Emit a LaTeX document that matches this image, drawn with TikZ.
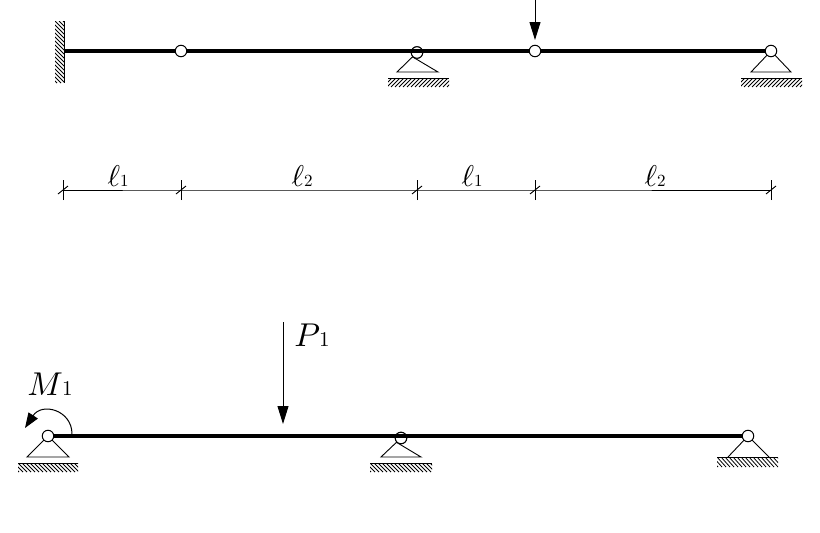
\documentclass[tikz,border=0pt]{standalone}
\usepackage{amsmath}
\usetikzlibrary{arrows.meta}
\newcommand{\biglabel}[2]{\scalebox{3.3}{$#1$}\hspace{-1pt}\scalebox{2.1}{#2}}
\newcommand{\spanlabel}[1]{\scalebox{3}{$\ell$}\scalebox{1.7}{#1}}
% hatched block: corners, then the slant of the strokes
\newcommand{\hatchblock}[5]{
  \begin{scope}
    \clip (#1,#2) rectangle (#3,#4);
    \foreach \hx in {-80,-76,...,120}
      \draw[hatching] (#1+\hx,#2) -- (#1+\hx+#5,#4);
  \end{scope}
}
\begin{document}
\begin{tikzpicture}[x=1pt,y=-1pt]
  \tikzstyle{beam}=[line width=4.8pt]
  \tikzstyle{thinline}=[line width=0.9pt]
  \tikzstyle{hatching}=[line width=0.8pt]
  \tikzstyle{hinge}=[circle,draw,fill=white,line width=1pt,minimum size=11.5pt,inner sep=0pt]
  \tikzstyle{force}=[line width=1pt,-{Triangle[length=18pt,width=11pt]}]
  \tikzstyle{moment}=[line width=1pt,-{Triangle[length=15pt,width=11pt]}]
  \useasboundingbox (0,0) rectangle (820,533);

  % upper beam
  \coordinate (wall) at (64,51);
  \coordinate (wall_t) at (64,21);
  \coordinate (wall_b) at (64,83);
  \coordinate (load_t) at (535,0);
  \coordinate (load_e) at (535,40);
  \draw[thinline] (wall_t) -- (wall_b);
  \hatchblock{55}{21}{64}{83}{62}

  \node[hinge] (H_2) at (417,52.5) {};
  \coordinate (T2_a) at (397,72);
  \coordinate (T2_b) at (438,72);
  \draw[thinline] (H_2) -- (T2_a) -- (T2_b) -- cycle;
  \node[hinge] at (H_2) {};
  \coordinate (G2_a) at (388,78);
  \coordinate (G2_b) at (449,78);
  \draw[thinline] (G2_a) -- (G2_b);
  \hatchblock{388}{78}{449}{87}{-9}

  \coordinate (T4_a) at (751,72);
  \coordinate (T4_b) at (791,72);
  \coordinate (H_4c) at (771,51);
  \draw[thinline] (H_4c) -- (T4_a) -- (T4_b) -- cycle;
  \coordinate (G4_a) at (741,78);
  \coordinate (G4_b) at (802,78);
  \draw[thinline] (G4_a) -- (G4_b);
  \hatchblock{741}{78}{802}{87}{-9}

  \draw[beam] (wall) -- (H_4c);
  \node[hinge] (H_1) at (181,51) {};
  \node[hinge] (H_3) at (535,51) {};
  \node[hinge] (H_4) at (H_4c) {};
  \draw[force] (load_t) -- (load_e);

  % spans
  \coordinate (D_0) at (63,190);
  \coordinate (D_1) at (181,190);
  \coordinate (D_2) at (417,190);
  \coordinate (D_3) at (535,190);
  \coordinate (D_4) at (771,190);
  \draw[thinline] (D_0) -- (D_1) -- (D_2) -- (D_3) -- (D_4);
  \foreach \d in {D_0,D_1,D_2,D_3,D_4} {
    \draw[thinline] ([yshift=-10pt]\d) -- ([yshift=10pt]\d);
    \draw[thinline] ([shift={(-5pt,-4pt)}]\d) -- ([shift={(5pt,4pt)}]\d);
  }
  \node[inner sep=0pt] (L_1) at (118,176) {\spanlabel{1}};
  \node[inner sep=0pt] (L_2) at (302,176) {\spanlabel{2}};
  \node[inner sep=0pt] (L_3) at (472,176) {\spanlabel{1}};
  \node[inner sep=0pt] (L_4) at (655,176) {\spanlabel{2}};

  % lower beam
  \coordinate (S_1c) at (48,436);
  \coordinate (S_3c) at (748,436);
  \coordinate (T5_a) at (27,457);
  \coordinate (T5_b) at (69,457);
  \draw[thinline] (S_1c) -- (T5_a) -- (T5_b) -- cycle;
  \coordinate (G5_a) at (18,463);
  \coordinate (G5_b) at (78,463);
  \draw[thinline] (G5_a) -- (G5_b);
  \hatchblock{18}{463}{78}{472}{9}

  \node[hinge] (S_2) at (401,438) {};
  \coordinate (T6_a) at (381,457);
  \coordinate (T6_b) at (421,457);
  \draw[thinline] (S_2) -- (T6_a) -- (T6_b) -- cycle;
  \node[hinge] at (S_2) {};
  \coordinate (G6_a) at (370,463);
  \coordinate (G6_b) at (432,463);
  \draw[thinline] (G6_a) -- (G6_b);
  \hatchblock{370}{463}{432}{472}{9}

  \coordinate (T7_a) at (728,457);
  \coordinate (T7_b) at (769,457);
  \draw[thinline] (T7_a) -- (S_3c) -- (T7_b);
  \coordinate (G7_a) at (717,457);
  \coordinate (G7_b) at (778,457);
  \draw[thinline] (G7_a) -- (G7_b);
  \hatchblock{717}{457}{778}{467}{9}

  \draw[beam] (S_1c) -- (S_3c);
  \node[hinge] (S_1) at (S_1c) {};
  \node[hinge] (S_3) at (S_3c) {};

  % loads
  \coordinate (P_t) at (283,322);
  \coordinate (P_e) at (283,424);
  \draw[force] (P_t) -- (P_e);
  \node[inner sep=0pt] (P_1) at (312,335) {\biglabel{P}{1}};
  \node[inner sep=0pt] (M_1) at (50,384) {\biglabel{M}{1}};
  \coordinate (M_s) at (72,434);
  \coordinate (M_e) at (25,428);
  \draw[moment] (M_s) .. controls (72,410) and (42,402) .. (M_e);
\end{tikzpicture}
\end{document}
